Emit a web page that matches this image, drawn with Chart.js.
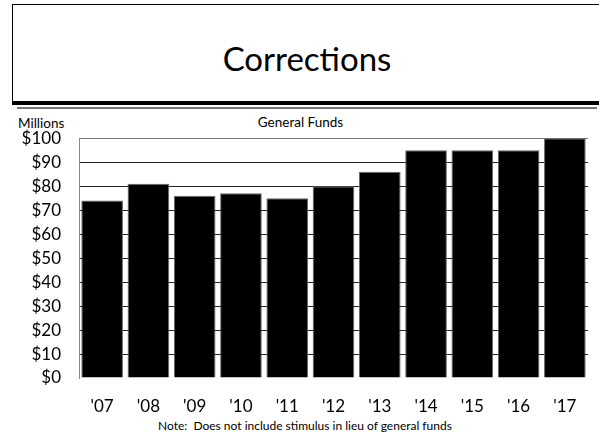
<!DOCTYPE html>
<html>
<head>
<meta charset="utf-8">
<script src="https://cdn.jsdelivr.net/npm/chart.js@4/dist/chart.umd.min.js"></script>
<style>
  html, body { margin: 0; padding: 0; background: #fff; }
  body { width: 599px; height: 436px; position: relative; overflow: hidden; font-family: Lato, "Open Sans", sans-serif; color: #000; }
  .titlebox { position: absolute; left: 12px; top: 4px; width: 600px; height: 96px; border-left: 1px solid #000; border-top: 1px solid #000; border-bottom: 4px solid #000; }
  .titlebox span { position: absolute; left: 0; width: 588px; top: 34px; text-align: center; font-size: 33px; line-height: 1.2; }
  .rule { position: absolute; left: 17px; width: 580px; top: 107px; height: 0; border-top: 2px solid #777; }
  .lbl { position: absolute; white-space: nowrap; line-height: 1.2; }
  #wrap { position: absolute; left: 0; top: 110px; width: 599px; height: 326px; }
</style>
</head>
<body>
<div class="titlebox"><span>Corrections</span></div>
<div class="rule"></div>
<div class="lbl" style="left:18px; top:115px; font-size:13.5px;">Millions</div>
<div class="lbl" style="left:0; width:601px; top:114px; font-size:13.5px; text-align:center;">General Funds</div>
<div class="lbl" style="left:158px; top:419px; font-size:12px;">Note:&nbsp; Does not include stimulus in lieu of general funds</div>
<div id="wrap"><canvas id="c" width="599" height="326"></canvas></div>
<script>
// Fiscal years and general fund appropriations (millions of dollars)
const years = ["'07", "'08", "'09", "'10", "'11", "'12", "'13", "'14", "'15", "'16", "'17"];
const generalFunds = [74, 81, 76, 77, 75, 80, 86, 95, 95, 95, 100];
const yTicks = [0, 10, 20, 30, 40, 50, 60, 70, 80, 90, 100];

new Chart(document.getElementById('c'), {
  type: 'bar',
  data: {
    labels: years,
    datasets: [{
      data: generalFunds,
      backgroundColor: '#000',
      borderColor: '#666',
      borderWidth: 1,
      categoryPercentage: 1,
      barPercentage: 0.9
    }]
  },
  options: {
    responsive: false,
    animation: false,
    devicePixelRatio: 1,
    layout: { padding: { top: 28, right: 11, left: 0, bottom: 0 } },
    plugins: { legend: { display: false }, tooltip: { enabled: false } },
    scales: {
      x: {
        grid: { display: false },
        border: { display: false },
        ticks: { color: '#000', font: { family: 'Lato', size: 17 }, padding: 10, maxRotation: 0 },
        afterFit: (s) => { s.height = 58; }
      },
      y: {
        min: 0, max: 100,
        afterBuildTicks: (s) => { s.ticks = yTicks.map(v => ({ value: v })); },
        grid: {
          drawTicks: false,
          color: (ctx) => (ctx.tick && ctx.tick.value === 0) ? 'rgba(0,0,0,0)' : (ctx.tick && ctx.tick.value === 100 ? '#777' : '#222'),
          lineWidth: 1
        },
        border: { display: true, color: '#888', width: 1 },
        ticks: {
          color: '#000',
          font: { family: 'Lato', size: 17 },
          padding: 18,
          callback: (v) => '$' + v
        },
        afterFit: (s) => { s.width = 79; }
      }
    }
  }
});
</script>
</body>
</html>
